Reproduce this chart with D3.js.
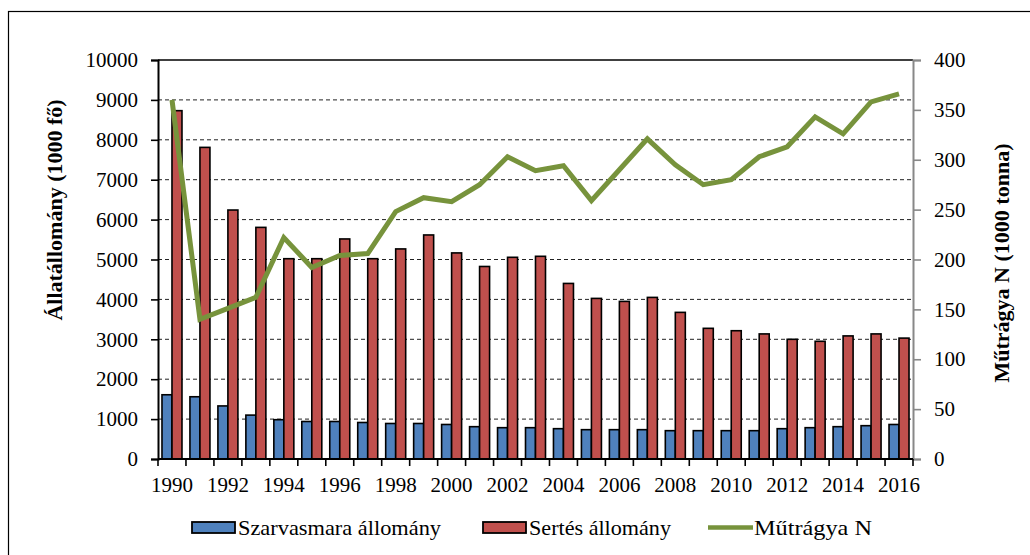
<!DOCTYPE html>
<html>
<head>
<meta charset="utf-8">
<script src="https://cdn.jsdelivr.net/npm/d3@7"></script>
<style>
  body { margin: 0; background: #fff; }
  svg text { font-family: "Liberation Serif", "Times New Roman", serif; fill: #000; }
</style>
</head>
<body>
<div id="chart"></div>
<script>
// years on the x axis
const years = d3.range(1990, 2017);

// cattle stock (1000 head)
const cattle = [1610, 1560, 1330, 1100, 985, 940, 940, 915, 890, 890,
    865, 810, 785, 785, 760, 735, 735, 735, 710, 710,
    710, 710, 760, 785, 810, 835, 865];

// pig stock (1000 head)
const pigs = [8730, 7810, 6240, 5805, 5020, 5020, 5515, 5020, 5265, 5615,
    5165, 4825, 5055, 5080, 4400, 4025, 3950, 4050, 3675, 3275,
    3215, 3135, 3000, 2950, 3085, 3135, 3030];

// nitrogen fertilizer (1000 tonnes)
const fertN = [360, 140, 151, 162, 222, 192, 204, 206, 248, 262,
    258, 275, 303, 289, 294, 259, 290, 321, 295, 275,
    280, 303, 313, 343, 326, 358, 366];

const leftTicks = d3.range(0, 10001, 1000);
const rightTicks = d3.range(0, 401, 50);
const legendNames = ["Szarvasmara állomány", "Sertés állomány", "Műtrágya N"];

const W = 1030, H = 555;
const margin = { top: 60, right: 117, bottom: 96, left: 158 };
const width = W - margin.left - margin.right,
    height = H - margin.top - margin.bottom;

let svg = d3.select("#chart").append("svg")
    .attr("width", W)
    .attr("height", H);

// outer frame, runs off the right and bottom edges
svg.append("rect")
    .attr("x", 8.5).attr("y", 11.5)
    .attr("width", W + 20).attr("height", H + 20)
    .attr("fill", "none").attr("stroke", "#000").attr("stroke-width", 1.2);

let g = svg.append("g")
    .attr("transform", "translate(" + margin.left + "," + margin.top + ")");

let x = d3.scaleBand().domain(years).range([0, width]);
let y = d3.scaleLinear().domain([0, 10000]).range([height, 0]);
let y2 = d3.scaleLinear().domain([0, 400]).range([height, 0]);

const barW = 10;

// dashed gridlines
g.append("g")
    .selectAll("line")
    .data(leftTicks.filter(d => d > 0 && d < 10000))
    .enter().append("line")
    .attr("x1", 0).attr("x2", width)
    .attr("y1", d => y(d)).attr("y2", d => y(d))
    .attr("stroke", "#222").attr("stroke-width", 1)
    .attr("stroke-dasharray", "4,3");

// top border of plot
g.append("line")
    .attr("x1", 0).attr("x2", width)
    .attr("y1", 0).attr("y2", 0)
    .attr("stroke", "#000").attr("stroke-width", 1.5);

// bars
g.append("g")
    .selectAll("rect")
    .data(cattle)
    .enter().append("rect")
    .attr("x", (d, i) => x(years[i]) + x.bandwidth() / 2 - barW)
    .attr("y", d => y(d))
    .attr("width", barW)
    .attr("height", d => height - y(d))
    .attr("fill", "#4F81BD").attr("stroke", "#000").attr("stroke-width", 1.6);

g.append("g")
    .selectAll("rect")
    .data(pigs)
    .enter().append("rect")
    .attr("x", (d, i) => x(years[i]) + x.bandwidth() / 2)
    .attr("y", d => y(d))
    .attr("width", barW)
    .attr("height", d => height - y(d))
    .attr("fill", "#C0504D").attr("stroke", "#000").attr("stroke-width", 1.6);

// fertilizer line
let line = d3.line()
    .x((d, i) => x(years[i]) + x.bandwidth() / 2)
    .y(d => y2(d));

g.append("path")
    .datum(fertN)
    .attr("d", line)
    .attr("fill", "none")
    .attr("stroke", "#77933C")
    .attr("stroke-width", 5)
    .attr("stroke-linejoin", "miter");

// left axis
let yAxis = g.append("g")
    .call(d3.axisLeft(y).tickValues(leftTicks).tickSize(7).tickPadding(13).tickFormat(d3.format("d")));
yAxis.select(".domain").attr("stroke", "#000").attr("stroke-width", 2);
yAxis.selectAll(".tick line").attr("stroke", "#000").attr("stroke-width", 1.6);
yAxis.selectAll("text").style("font-size", "21px");

// right axis
let y2Axis = g.append("g")
    .attr("transform", "translate(" + width + ",0)")
    .call(d3.axisRight(y2).tickValues(rightTicks).tickSize(8).tickPadding(13));
y2Axis.select(".domain").attr("stroke", "#888").attr("stroke-width", 2);
y2Axis.selectAll(".tick line").attr("stroke", "#888").attr("stroke-width", 1.6);
y2Axis.selectAll("text").style("font-size", "21px");

// bottom axis: ticks on band edges, labels every other year
let xb = g.append("g").attr("transform", "translate(0," + height + ")");
xb.append("line")
    .attr("x1", 0).attr("x2", width)
    .attr("stroke", "#000").attr("stroke-width", 2);
xb.selectAll(".xt")
    .data(years.concat([2017]))
    .enter().append("line")
    .attr("class", "xt")
    .attr("x1", d => d < 2017 ? x(d) : width)
    .attr("x2", d => d < 2017 ? x(d) : width)
    .attr("y1", 0).attr("y2", 7)
    .attr("stroke", "#000").attr("stroke-width", 1.6);
xb.selectAll("text")
    .data(years.filter(d => d % 2 === 0))
    .enter().append("text")
    .attr("x", d => x(d) + x.bandwidth() / 2)
    .attr("y", 33)
    .attr("text-anchor", "middle")
    .style("font-size", "21px")
    .text(d => d);

// axis titles
svg.append("text")
    .attr("transform", "translate(62,210) rotate(-90)")
    .attr("text-anchor", "middle")
    .style("font-size", "22px").style("font-weight", "bold")
    .text("Állatállomány (1000 fő)");

svg.append("text")
    .attr("transform", "translate(1009,263) rotate(-90)")
    .attr("text-anchor", "middle")
    .style("font-size", "22px").style("font-weight", "bold")
    .text("Műtrágya N (1000 tonna)");

// legend
let legend = svg.append("g");
const legX = [192, 483, 708];
const legLen = [203, 142, 118];
const legColors = ["#4F81BD", "#C0504D", "#77933C"];
legendNames.forEach((name, i) => {
    if (i < 2) {
        legend.append("rect")
            .attr("x", legX[i]).attr("y", 522)
            .attr("width", 43).attr("height", 11)
            .attr("fill", legColors[i]).attr("stroke", "#000").attr("stroke-width", 1.8);
    } else {
        legend.append("line")
            .attr("x1", legX[i]).attr("x2", legX[i] + 45)
            .attr("y1", 527.5).attr("y2", 527.5)
            .attr("stroke", legColors[i]).attr("stroke-width", 4.5);
    }
    legend.append("text")
        .attr("x", legX[i] + 46)
        .attr("y", 535)
        .attr("textLength", legLen[i])
        .attr("lengthAdjust", "spacingAndGlyphs")
        .style("font-size", "21px")
        .text(name);
});
</script>
</body>
</html>
